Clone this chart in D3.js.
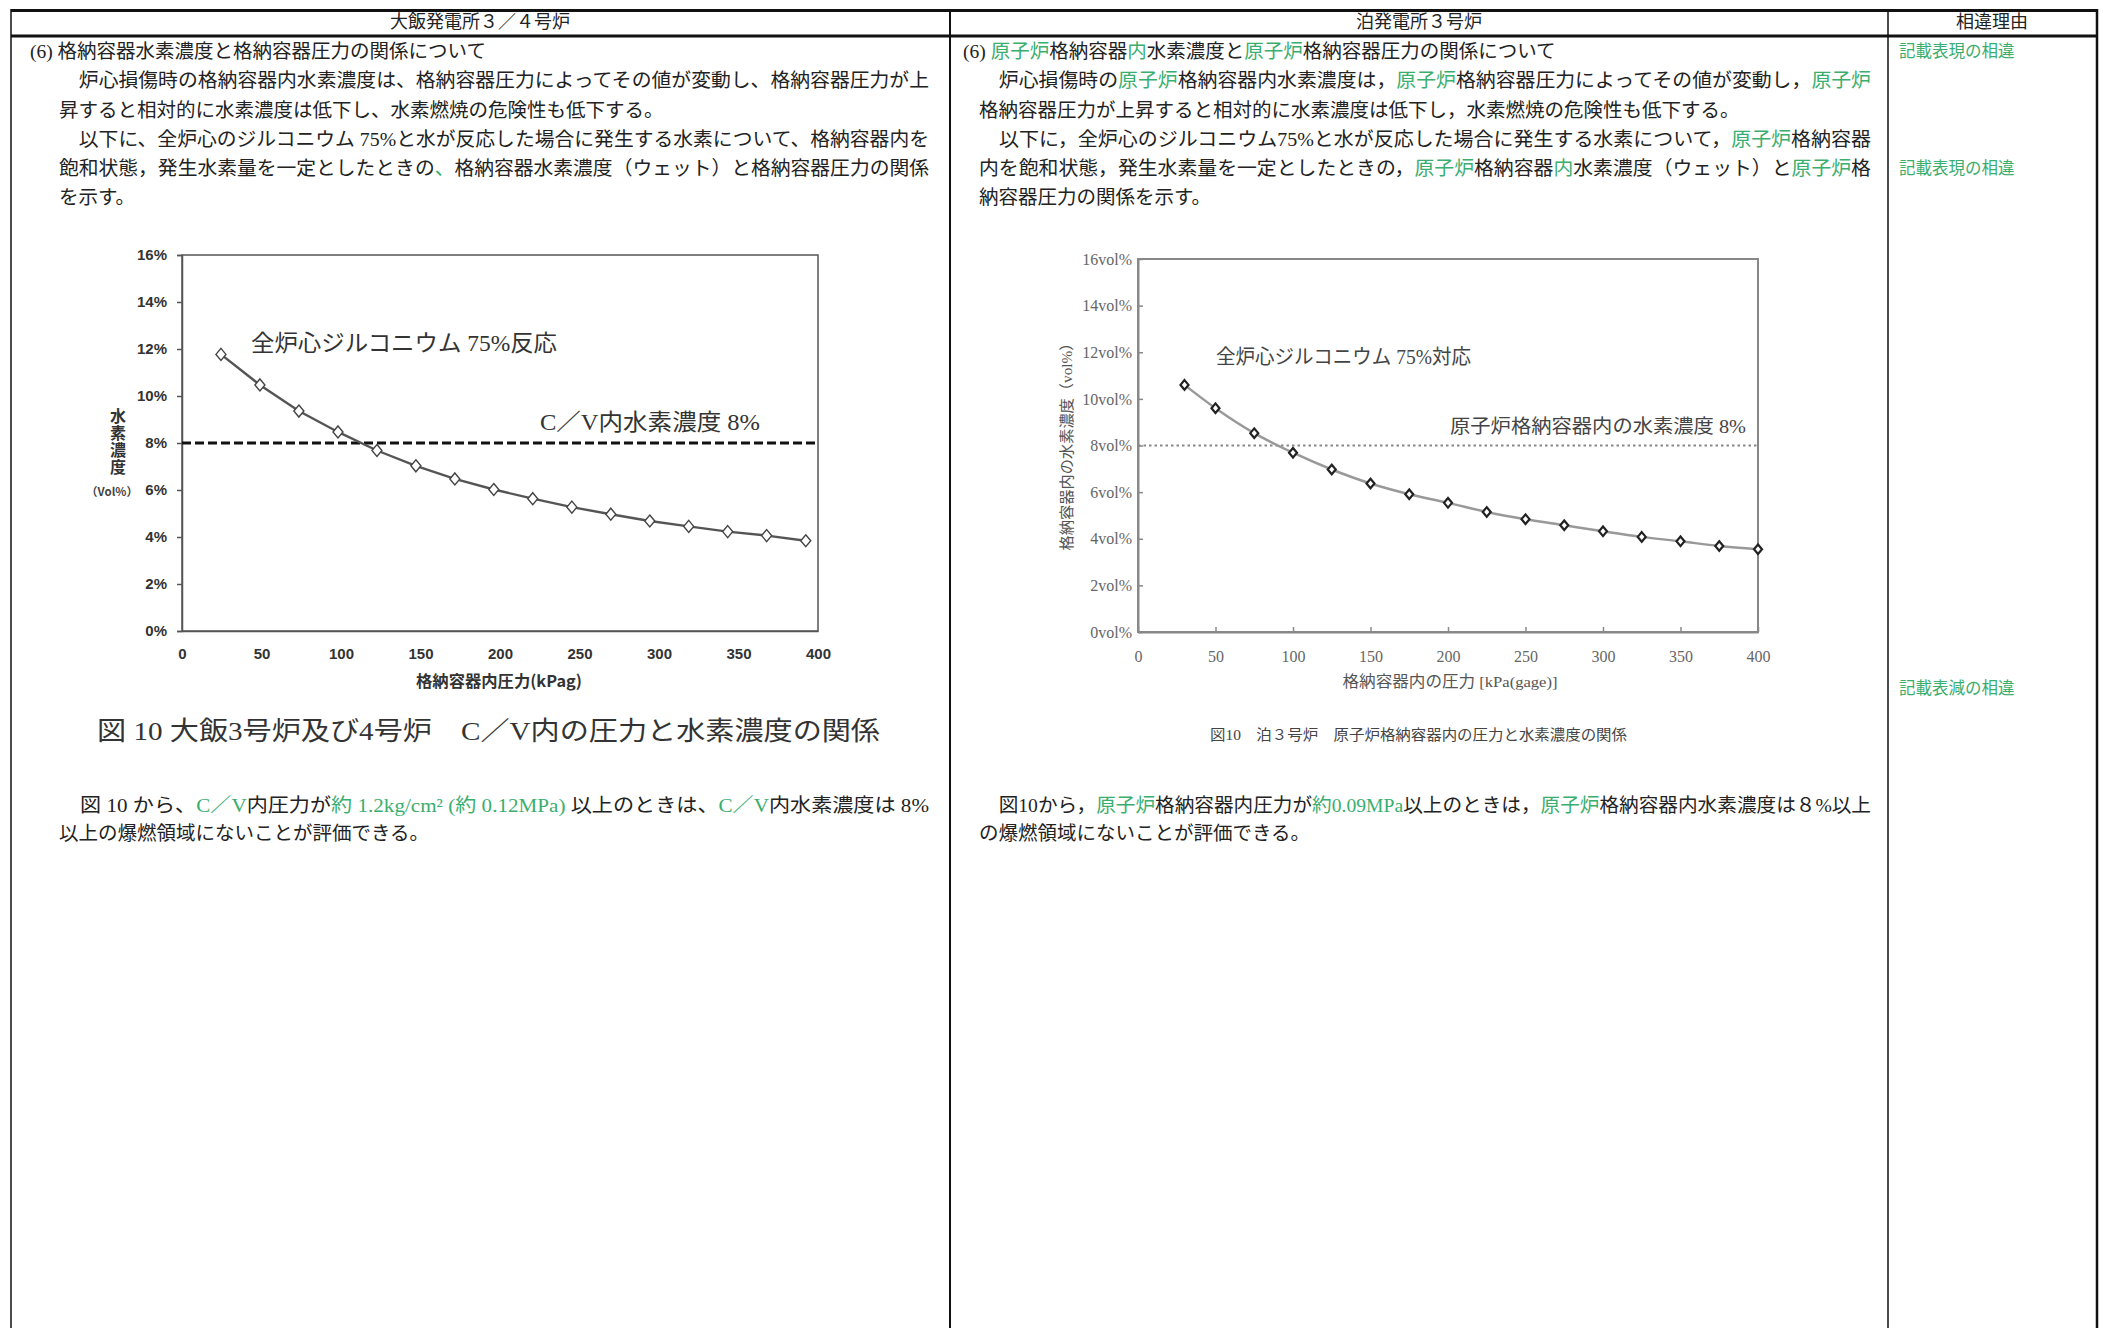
<!DOCTYPE html>
<html>
<head>
<meta charset="utf-8">
<script src="https://cdn.jsdelivr.net/npm/d3@7"></script>
<style>
  body { margin: 0; background: #fff; }
  text { font-family: "Liberation Serif", "Noto Sans CJK JP", serif; }
</style>
</head>
<body>
<div id="page"></div>
<script>
// ---- data
// Ohi 3/4 : pressure (kPag) vs hydrogen concentration (vol%)
var ohiPressure = [24.5, 49.0, 73.5, 98.1, 122.6, 147.1, 171.6, 196.1, 220.6, 245.2, 269.7, 294.2, 318.7, 343.2, 367.7, 392.3];
var ohiH2       = [11.77, 10.47, 9.36, 8.47, 7.68, 7.03, 6.47, 6.02, 5.63, 5.27, 4.97, 4.68, 4.45, 4.23, 4.06, 3.84];
// Tomari 3 : pressure (kPa gage) vs hydrogen concentration (vol%)
var tomariPressure = [30, 50, 75, 100, 125, 150, 175, 200, 225, 250, 275, 300, 325, 350, 375, 400];
var tomariH2       = [10.6, 9.6, 8.53, 7.69, 6.97, 6.37, 5.91, 5.54, 5.15, 4.84, 4.58, 4.32, 4.08, 3.89, 3.69, 3.55];
var limitH2 = 8;
var xTicks = [0, 50, 100, 150, 200, 250, 300, 350, 400];
var yTicks = [0, 2, 4, 6, 8, 10, 12, 14, 16];

// ---- text of the comparison table ([...] = green)
var headers = ["大飯発電所３／４号炉", "泊発電所３号炉", "相違理由"];
var leftText = [
  "(6) 格納容器水素濃度と格納容器圧力の関係について",
  "　炉心損傷時の格納容器内水素濃度は、格納容器圧力によってその値が変動し、格納容器圧力が上",
  "昇すると相対的に水素濃度は低下し、水素燃焼の危険性も低下する。",
  "　以下に、全炉心のジルコニウム 75%と水が反応した場合に発生する水素について、格納容器内を",
  "飽和状態，発生水素量を一定としたときの[、]格納容器水素濃度（ウェット）と格納容器圧力の関係",
  "を示す。"
];
var rightText = [
  "(6) [原子炉]格納容器[内]水素濃度と[原子炉]格納容器圧力の関係について",
  "　炉心損傷時の[原子炉]格納容器内水素濃度は，[原子炉]格納容器圧力によってその値が変動し，[原子炉]",
  "格納容器圧力が上昇すると相対的に水素濃度は低下し，水素燃焼の危険性も低下する。",
  "　以下に，全炉心のジルコニウム75%と水が反応した場合に発生する水素について，[原子炉]格納容器",
  "内を飽和状態，発生水素量を一定としたときの，[原子炉]格納容器[内]水素濃度（ウェット）と[原子炉]格",
  "納容器圧力の関係を示す。"
];
var leftBottom = [
  "　図 10 から、[C／V]内圧力が[約 1.2kg/cm² (約 0.12MPa)] 以上のときは、[C／V]内水素濃度は 8%",
  "以上の爆燃領域にないことが評価できる。"
];
var rightBottom = [
  "　図10から，[原子炉]格納容器内圧力が[約0.09MPa]以上のときは，[原子炉]格納容器内水素濃度は８%以上",
  "の爆燃領域にないことが評価できる。"
];
var reasons = ["記載表現の相違", "記載表現の相違", "記載表減の相違"];

var GREEN = "#3aae6e";
var W = 2103, H = 1328;

var svg = d3.select("#page")
  .append("svg")
    .attr("width", W)
    .attr("height", H);

// ---- table frame
var frame = svg.append("g").attr("stroke", "#111");
frame.append("line").attr("x1", 11).attr("x2", 2098).attr("y1", 10.5).attr("y2", 10.5).attr("stroke-width", 3);
frame.append("line").attr("x1", 11).attr("x2", 2098).attr("y1", 36).attr("y2", 36).attr("stroke-width", 3);
[[11, 1.5], [950, 2], [1888, 1.5], [2097, 2.5]].forEach(function(v) {
  frame.append("line").attr("x1", v[0]).attr("x2", v[0]).attr("y1", 9).attr("y2", H).attr("stroke-width", v[1]);
});

svg.selectAll("text.hdr")
  .data(headers)
  .enter()
  .append("text")
    .attr("class", "hdr")
    .attr("x", function(d, i) { return [480, 1419, 1992][i]; })
    .attr("y", 22)
    .attr("text-anchor", "middle")
    .attr("dominant-baseline", "central")
    .style("font-size", "18px")
    .attr("fill", "#222")
    .text(function(d) { return d; });

// one line of body text, green parts marked with [...]
function textLine(x, y, str, len) {
  var t = svg.append("text")
    .attr("x", x)
    .attr("y", y)
    .attr("dominant-baseline", "central")
    .style("font-size", "19.5px");
  str.split(/(\[[^\]]*\])/).forEach(function(s) {
    if (!s) return;
    var green = s[0] == "[";
    t.append("tspan")
      .attr("fill", green ? GREEN : "#222")
      .text(green ? s.slice(1, -1) : s);
  });
  if (len) t.attr("textLength", len).attr("lengthAdjust", "spacingAndGlyphs");
  return t;
}

var lineY = [51, 80, 110, 139, 168, 197];
leftText.forEach(function(s, i) {
  var full = (i == 1 || i == 3 || i == 4);
  textLine(i == 0 ? 30 : 59, lineY[i], s, full ? 870 : null);
});
rightText.forEach(function(s, i) {
  var full = (i == 1 || i == 3 || i == 4);
  textLine(i == 0 ? 963 : 979, lineY[i], s, full ? 892 : null);
});
leftBottom.forEach(function(s, i) { textLine(59, 805 + i * 28, s, i == 0 ? 870 : null); });
rightBottom.forEach(function(s, i) { textLine(979, 805 + i * 28, s, i == 0 ? 892 : null); });

svg.selectAll("text.reason")
  .data(reasons)
  .enter()
  .append("text")
    .attr("class", "reason")
    .attr("x", 1899)
    .attr("y", function(d, i) { return [51, 168, 688][i]; })
    .attr("dominant-baseline", "central")
    .style("font-size", "16.5px")
    .attr("fill", GREEN)
    .text(function(d) { return d; });

// diamond marker with its own width / height
function diamond(hw, hh) {
  return { draw: function(ctx) {
    ctx.moveTo(0, -hh); ctx.lineTo(hw, 0); ctx.lineTo(0, hh); ctx.lineTo(-hw, 0); ctx.closePath();
  } };
}

function label(x, y, str, size, len, fill, extra) {
  var t = svg.append("text")
    .attr("x", x).attr("y", y)
    .attr("dominant-baseline", "central")
    .style("font-size", size + "px")
    .attr("fill", fill)
    .text(str);
  if (len) t.attr("textLength", len).attr("lengthAdjust", "spacingAndGlyphs");
  if (extra) extra(t);
  return t;
}

// ================= Ohi chart =================
var x1 = d3.scaleLinear().domain([0, 400]).range([182, 818]);
var y1 = d3.scaleLinear().domain([0, 16]).range([631, 255]);

var ax1 = svg.append("g").attr("transform", "translate(0,631)")
  .call(d3.axisBottom(x1).tickValues(xTicks).tickSize(0).tickPadding(17));
var ay1 = svg.append("g").attr("transform", "translate(182,0)")
  .call(d3.axisLeft(y1).tickValues(yTicks).tickFormat(function(d) { return d + "%"; }).tickSize(5).tickPadding(10));
[ax1, ay1].forEach(function(a) {
  a.select(".domain").attr("stroke", "#555").attr("stroke-width", 1.5);
  a.selectAll(".tick line").attr("stroke", "#555").attr("stroke-width", 1.5);
  a.selectAll("text")
    .style("font-family", "'Liberation Sans', Arial, sans-serif")
    .style("font-weight", "bold")
    .style("font-size", "15px")
    .attr("fill", "#333");
});
svg.append("rect")
  .attr("x", x1(0)).attr("y", y1(16))
  .attr("width", x1(400) - x1(0)).attr("height", y1(0) - y1(16))
  .attr("fill", "none").attr("stroke", "#555").attr("stroke-width", 1.5);

svg.append("line")
  .attr("x1", x1(0)).attr("x2", x1(400))
  .attr("y1", y1(limitH2)).attr("y2", y1(limitH2))
  .attr("stroke", "#111").attr("stroke-width", 3).attr("stroke-dasharray", "9,4");

var ohi = ohiPressure.map(function(p, i) { return [p, ohiH2[i]]; });
svg.append("path")
  .datum(ohi)
  .attr("fill", "none")
  .attr("stroke", "#555")
  .attr("stroke-width", 2.4)
  .attr("d", d3.line().x(function(d) { return x1(d[0]); }).y(function(d) { return y1(d[1]); }));
svg.selectAll("path.ohiPt")
  .data(ohi)
  .enter()
  .append("path")
    .attr("class", "ohiPt")
    .attr("transform", function(d) { return "translate(" + x1(d[0]) + "," + y1(d[1]) + ")"; })
    .attr("d", d3.symbol().type(diamond(5, 6)))
    .attr("fill", "#fff")
    .attr("stroke", "#444")
    .attr("stroke-width", 1.4);

label(251, 343, "全炉心ジルコニウム 75%反応", 23, 306, "#333");
label(540, 422, "C／V内水素濃度 8%", 23, 220, "#333");
// y title written top to bottom
svg.append("text")
  .attr("x", 118)
  .attr("y", 408)
  .style("writing-mode", "vertical-rl")
  .style("font-family", "'Noto Sans CJK JP', sans-serif")
  .style("font-weight", "bold")
  .style("font-size", "16px")
  .style("letter-spacing", "1px")
  .attr("fill", "#333")
  .text("水素濃度");
label(112, 491, "（Vol%）", 11.5, null, "#444", function(t) {
  t.attr("text-anchor", "middle").style("font-family", "'Noto Sans CJK JP', sans-serif").style("font-weight", "bold");
});
label(499, 680, "格納容器内圧力(kPag)", 16, 166, "#333", function(t) {
  t.attr("text-anchor", "middle").style("font-family", "'Noto Sans CJK JP', sans-serif").style("font-weight", "bold");
});
label(97, 731, "図 10 大飯3号炉及び4号炉　C／V内の圧力と水素濃度の関係", 26, 783, "#333");

// ================= Tomari chart =================
var x2 = d3.scaleLinear().domain([0, 400]).range([1138, 1758]);
var y2 = d3.scaleLinear().domain([0, 16]).range([632, 259]);

var ax2 = svg.append("g").attr("transform", "translate(0,632)")
  .call(d3.axisBottom(x2).tickValues(xTicks).tickSizeInner(-5).tickSizeOuter(0).tickPadding(19));
var ay2 = svg.append("g").attr("transform", "translate(1138,0)")
  .call(d3.axisLeft(y2).tickValues(yTicks).tickFormat(function(d) { return d + "vol%"; }).tickSizeInner(-5).tickSizeOuter(0).tickPadding(6));
[ax2, ay2].forEach(function(a) {
  a.select(".domain").attr("stroke", "#888").attr("stroke-width", 2);
  a.selectAll(".tick line").attr("stroke", "#888").attr("stroke-width", 1.5);
  a.selectAll("text")
    .style("font-family", "'Liberation Serif', serif")
    .style("font-size", "16px")
    .attr("fill", "#666");
});
svg.append("rect")
  .attr("x", x2(0)).attr("y", y2(16))
  .attr("width", x2(400) - x2(0)).attr("height", y2(0) - y2(16))
  .attr("fill", "none").attr("stroke", "#888").attr("stroke-width", 2);

svg.append("line")
  .attr("x1", x2(0)).attr("x2", x2(400))
  .attr("y1", y2(limitH2)).attr("y2", y2(limitH2))
  .attr("stroke", "#888").attr("stroke-width", 2).attr("stroke-dasharray", "2.5,3");

var tomari = tomariPressure.map(function(p, i) { return [p, tomariH2[i]]; });
svg.append("path")
  .datum(tomari)
  .attr("fill", "none")
  .attr("stroke", "#999")
  .attr("stroke-width", 2.5)
  .attr("d", d3.line().curve(d3.curveCatmullRom).x(function(d) { return x2(d[0]); }).y(function(d) { return y2(d[1]); }));
svg.selectAll("path.tomariPt")
  .data(tomari)
  .enter()
  .append("path")
    .attr("class", "tomariPt")
    .attr("transform", function(d) { return "translate(" + x2(d[0]) + "," + y2(d[1]) + ")"; })
    .attr("d", d3.symbol().type(diamond(4, 4.8)))
    .attr("fill", "#fff")
    .attr("stroke", "#222")
    .attr("stroke-width", 2.2);

label(1216, 357, "全炉心ジルコニウム 75%対応", 20, 255, "#444");
label(1450, 426, "原子炉格納容器内の水素濃度 8%", 19, 296, "#444");
label(1067, 443, "格納容器内の水素濃度（vol%）", 15, 215, "#555", function(t) {
  t.attr("text-anchor", "middle")
   .attr("transform", "rotate(-90,1067,443)");
});
label(1450, 681, "格納容器内の圧力 [kPa(gage)]", 15.5, 215, "#555", function(t) {
  t.attr("text-anchor", "middle");
});
label(1210, 735, "図10　泊３号炉　原子炉格納容器内の圧力と水素濃度の関係", 14.5, 417, "#444");
</script>
</body>
</html>
